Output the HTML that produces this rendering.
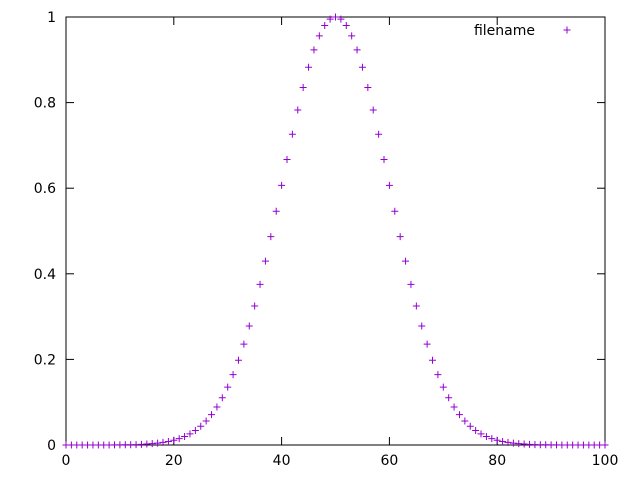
<!DOCTYPE html>
<html><head><meta charset="utf-8"><style>
html,body{margin:0;padding:0;background:#fff;}
svg{display:block;font-family:"DejaVu Sans","Liberation Sans",sans-serif;}
</style></head><body>
<svg id="chart" width="640" height="480" viewBox="0 0 640 480"></svg>
<script>
const half = [1,0.9950,0.9802,0.9560,0.9231,0.8825,0.8353,0.7827,0.7261,0.6670,0.6065,0.5461,0.4868,0.4296,0.3753,0.3247,0.2780,0.2357,0.1979,0.1645,0.1353,0.1103,0.0889,0.0710,0.0561,0.0439,0.0340,0.0261,0.0198,0.0149,0.0111,0.0082,0.0060,0.0043,0.0031,0.0022,0.0015,0.0010,0.0007,0.0005,0.0003,0.0002,0.0001,0.0001,0.0001,0,0,0,0,0,0];
const yValues = half.slice(1).reverse().concat(half);
const xValues = yValues.map((v,i)=>i);
const xTicks = [0,20,40,60,80,100];
const yTicks = [0,0.2,0.4,0.6,0.8,1];
const yTickLabels = ["0","0.2","0.4","0.6","0.8","1"];

const L=66,R=605,T=17,B=445;
const sx=v=>L+(v-0)/(100-0)*(R-L);
const sy=v=>B-(v-0)/(1-0)*(B-T);
const svg=document.getElementById('chart');
const NS='http://www.w3.org/2000/svg';
function mk(tag,attrs,parent){const e=document.createElementNS(NS,tag);for(const k in attrs)e.setAttribute(k,attrs[k]);(parent||svg).appendChild(e);return e;}

const frame=mk('rect',{x:L,y:T,width:R-L,height:B-T,fill:'none',stroke:'#000','stroke-width':1});



const xg=mk('g',{});


xTicks.forEach(t=>{
  const x=sx(t);
  mk('line',{x1:x,y1:B,x2:x,y2:B-8,stroke:'#000'},xg);
  mk('line',{x1:x,y1:T,x2:x,y2:T+8,stroke:'#000'},xg);
  const tx=mk('text',{x:x,y:B+20,'text-anchor':'middle','font-size':14,fill:'#000'},xg);
  tx.textContent=String(t);
  
  
});
const yg=mk('g',{});


yTicks.forEach((t,i)=>{
  const y=sy(t);
  mk('line',{x1:L,y1:y,x2:L+8,y2:y,stroke:'#000'},yg);
  mk('line',{x1:R,y1:y,x2:R-8,y2:y,stroke:'#000'},yg);
  const tx=mk('text',{x:L-10,y:y+5,'text-anchor':'end','font-size':14,fill:'#000'},yg);
  tx.textContent=yTickLabels[i];
  
  
});

const sg=mk('g',{stroke:'#9400d3','stroke-width':1});


xValues.forEach((xv,i)=>{
  const x=sx(xv),y=sy(yValues[i]);
  const p=mk('path',{d:`M${x-3.5},${y}H${x+3.5}M${x},${y-3.5}V${y+3.5}`},sg);
  
  
});

const lg=mk('g',{});


const lt=mk('text',{x:535,y:35,'text-anchor':'end','font-size':14,fill:'#000'},lg);
lt.textContent='filename';
mk('path',{d:'M563.5,30H570.5M567,26.5V33.5',stroke:'#9400d3','stroke-width':1},lg);
</script>
</body></html>
